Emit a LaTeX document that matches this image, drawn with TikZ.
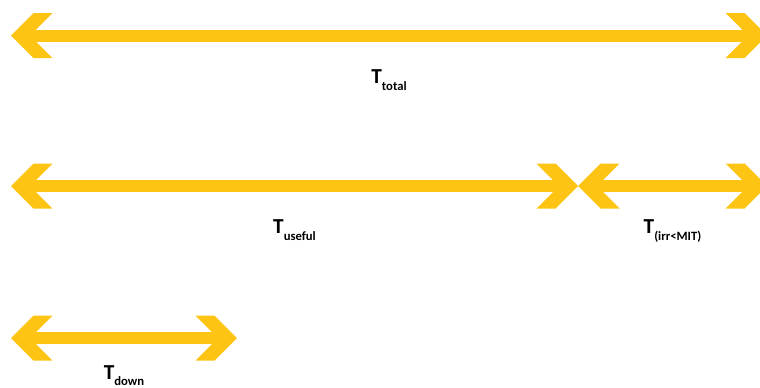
\documentclass[tikz,border=0pt]{standalone}
\usepackage{fontspec}
\setmainfont{Carlito}
\usetikzlibrary{arrows.meta}

\definecolor{baryellow}{HTML}{FDC414}

% chevron shaped head, drawn filled
\pgfdeclarearrow{
  name = Chev,
  setup code = {
    \pgfarrowssettipend{0pt}
    \pgfarrowssetbackend{-31.125pt}
    \pgfarrowssetlineend{-10pt}
    \pgfarrowssetvisualbackend{-18.75pt}
    \pgfarrowshullpoint{0pt}{0pt}
    \pgfarrowsupperhullpoint{-31.125pt}{16.875pt}
  },
  drawing code = {
    \pgfpathmoveto{\pgfpoint{0pt}{0pt}}
    \pgfpathlineto{\pgfpoint{-16.875pt}{16.875pt}}
    \pgfpathlineto{\pgfpoint{-31.125pt}{16.875pt}}
    \pgfpathlineto{\pgfpoint{-18.75pt}{4.5pt}}
    \pgfpathlineto{\pgfpoint{-18.75pt}{-4.5pt}}
    \pgfpathlineto{\pgfpoint{-31.125pt}{-16.875pt}}
    \pgfpathlineto{\pgfpoint{-16.875pt}{-16.875pt}}
    \pgfpathclose
    \pgfusepathqfill
  },
  defaults = {}
}

\tikzset{
  span/.style={color=baryellow, line width=9pt, Chev-Chev},
  lbl/.style={anchor=north, inner sep=0pt, yshift=-21pt, text=black,
    font=\fontsize{16}{16}\selectfont\bfseries}
}

\newcommand{\tlab}[1]{T\raisebox{-5pt}{\fontsize{9.5}{9.5}\selectfont #1}}

\begin{document}
\begin{tikzpicture}[x=0.75pt, y=-0.75pt]
  \useasboundingbox (0,0) rectangle (760,387);
  \clip (0,0) rectangle (760,387);

  \coordinate (totL) at (11,35.5);
  \coordinate (totR) at (767,35.5);
  \coordinate (useL) at (11,186);
  \coordinate (useR) at (578,186);
  \coordinate (irrR) at (767,186);
  \coordinate (dwnL) at (11,338);
  \coordinate (dwnR) at (237,338);

  \draw[span] (totL) -- (totR) node[lbl, midway] (ttot) {\tlab{total}};
  \draw[span] (useL) -- (useR) node[lbl, midway] (tuse) {\tlab{useful}};
  \draw[span] (useR) -- (irrR) node[lbl, midway] (tirr) {\tlab{(irr<MIT)}};
  \draw[span] (dwnL) -- (dwnR) node[lbl, midway, yshift=5pt] (tdwn) {\tlab{down}};
\end{tikzpicture}
\end{document}
